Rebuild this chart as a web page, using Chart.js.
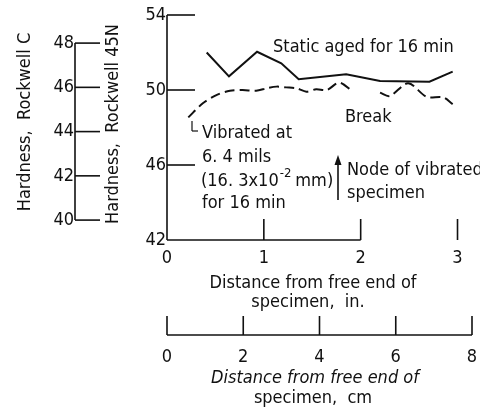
<!DOCTYPE html>
<html>
<head>
<meta charset="utf-8">
<script src="https://cdn.jsdelivr.net/npm/chart.js@4.4.1/dist/chart.umd.min.js"></script>
<style>
  html, body { margin: 0; padding: 0; background: #fff; }
  canvas { display: block; }
</style>
</head>
<body>
<canvas id="chart" width="480" height="411"></canvas>
<script>
// Distance from free end of specimen, in.
const staticX = [0.41, 0.64, 0.93, 1.18, 1.36, 1.85, 2.20, 2.71, 2.95]
const staticY = [52.0, 50.73, 52.04, 51.42, 50.57, 50.84, 50.48, 50.44, 50.98]

// vibrated curve, null marks the break in the trace
const vibX = [0.22, 0.37, 0.51, 0.65, 0.78, 0.92, 1.03, 1.13, 1.23, 1.34, 1.44, 1.54, 1.65, 1.78, 1.92, 2.05, 2.20, 2.30, 2.49, 2.68, 2.85, 2.95]
const vibY = [48.54, 49.29, 49.73, 49.96, 50.0, 49.96, 50.09, 50.18, 50.14, 50.09, 49.91, 50.04, 50.0, 50.39, 49.91, null, 49.86, 49.68, 50.36, 49.64, 49.61, 49.25]

const inchTicks = [0, 1, 2, 3]
const cmTicks = [0, 2, 4, 6, 8]
const hr45Ticks = [54, 50, 46, 42]
const hrcTicks = [48, 46, 44, 42, 40]

const FONT = '"DejaVu Sans Condensed", "Liberation Sans Narrow", "DejaVu Sans", sans-serif'
const INK = '#111'

const toPoints = (xs, ys) => xs.map((x, i) => ({ x, y: ys[i] }))

// Helper for straight strokes
function seg(ctx, x1, y1, x2, y2) {
  ctx.beginPath()
  ctx.moveTo(x1, y1)
  ctx.lineTo(x2, y2)
  ctx.stroke()
}

function text(ctx, str, x, y, size, align = 'left', style = '') {
  ctx.font = `${style} ${size}px ${FONT}`
  ctx.textAlign = align
  ctx.textBaseline = 'middle'
  ctx.fillText(str, x, y)
}

// Axes, scales and notes drawn by hand (ticks point inward, extra scales)
const axesPlugin = {
  id: 'axes',
  afterDraw(chart) {
    const { ctx } = chart
    const { x, xcm, y, yc } = chart.scales
    ctx.save()
    ctx.strokeStyle = INK
    ctx.fillStyle = INK
    ctx.lineWidth = 1.6

    // main Rockwell 45N axis
    const ax = x.getPixelForValue(0)
    seg(ctx, ax, y.getPixelForValue(54), ax, y.getPixelForValue(42))
    hr45Ticks.forEach(v => {
      const py = y.getPixelForValue(v)
      if (v !== 42) seg(ctx, ax, py, ax + 28, py)
      text(ctx, String(v), ax - 1, py, 18, 'right')
    })

    // inch axis (trace stops after 2 in the original)
    const by = y.getPixelForValue(42)
    seg(ctx, ax, by, x.getPixelForValue(2), by)
    inchTicks.forEach(v => {
      const px = x.getPixelForValue(v)
      if (v > 0) seg(ctx, px, by - 21, px, by)
      text(ctx, String(v), px, by + 18, 18, 'center')
    })
    text(ctx, 'Distance from free end of', 313, 283, 18, 'center')
    text(ctx, 'specimen,  in.', 308, 302, 18, 'center')

    // cm axis
    const cy = 335
    seg(ctx, xcm.getPixelForValue(0), cy, xcm.getPixelForValue(8), cy)
    cmTicks.forEach(v => {
      const px = xcm.getPixelForValue(v)
      seg(ctx, px, cy - 19, px, cy)
      text(ctx, String(v), px, cy + 22, 18, 'center')
    })
    text(ctx, 'Distance from free end of', 315, 378, 18, 'center', 'italic')
    text(ctx, 'specimen,  cm', 313, 398, 18, 'center')

    // Rockwell C scale
    const rx = 75
    seg(ctx, rx, yc.getPixelForValue(48), rx, yc.getPixelForValue(40))
    hrcTicks.forEach(v => {
      const py = yc.getPixelForValue(v)
      seg(ctx, rx, py, rx + 25, py)
      text(ctx, String(v), rx - 1, py, 18, 'right')
    })

    // rotated axis titles
    const vtitle = (str, cx, cyy) => {
      ctx.save()
      ctx.translate(cx, cyy)
      ctx.rotate(-Math.PI / 2)
      text(ctx, str, 0, 0, 18, 'center')
      ctx.restore()
    }
    vtitle('Hardness,  Rockwell C', 25, 122)
    vtitle('Hardness,  Rockwell 45N', 113, 124)

    // curve notes
    text(ctx, 'Static aged for 16 min', 273, 47, 18)
    text(ctx, 'Break', 345, 117, 18)

    ctx.lineWidth = 1.2
    seg(ctx, 192, 121, 192, 131)
    seg(ctx, 192, 131, 198, 131)
    text(ctx, 'Vibrated at', 202, 133, 18)
    text(ctx, '6. 4 mils', 202, 157, 18)
    ctx.font = `18px ${FONT}`
    const pre = '(16. 3x10'
    text(ctx, pre, 201, 181, 18)
    let px = 201 + ctx.measureText(pre).width + 1
    text(ctx, '-2', px, 174, 13)
    ctx.font = `13px ${FONT}`
    px += ctx.measureText('-2').width + 4
    text(ctx, 'mm)', px, 181, 18)
    text(ctx, 'for 16 min', 202, 203, 18)

    // node arrow
    ctx.lineWidth = 1.6
    seg(ctx, 338, 200, 338, 162)
    ctx.beginPath()
    ctx.moveTo(338, 155)
    ctx.lineTo(334.5, 165)
    ctx.lineTo(341.5, 165)
    ctx.closePath()
    ctx.fill()
    text(ctx, 'Node of vibrated', 347, 170, 18)
    text(ctx, 'specimen', 347, 193, 18)

    ctx.restore()
  }
}

new Chart(document.getElementById('chart').getContext('2d'), {
  type: 'line',
  data: {
    datasets: [
      {
        label: 'Static aged for 16 min',
        data: toPoints(staticX, staticY),
        borderColor: INK,
        borderWidth: 2,
        pointRadius: 0,
        tension: 0
      },
      {
        label: 'Vibrated at 6.4 mils for 16 min',
        data: toPoints(vibX, vibY),
        borderColor: INK,
        borderWidth: 2,
        borderDash: [10, 5],
        pointRadius: 0,
        tension: 0.3,
        spanGaps: false
      }
    ]
  },
  options: {
    responsive: false,
    animation: false,
    events: [],
    layout: { padding: { left: 167, top: 15, right: 8, bottom: 171 } },
    plugins: { legend: { display: false }, tooltip: { enabled: false } },
    scales: {
      x: { type: 'linear', min: 0, max: 8 / 2.54, display: false },
      xcm: { type: 'linear', axis: 'x', min: 0, max: 8, display: false },
      y: { type: 'linear', min: 42, max: 54, display: false },
      yc: { type: 'linear', axis: 'y', min: 39.1, max: 49.27, display: false }
    }
  },
  plugins: [axesPlugin]
})
</script>
</body>
</html>
